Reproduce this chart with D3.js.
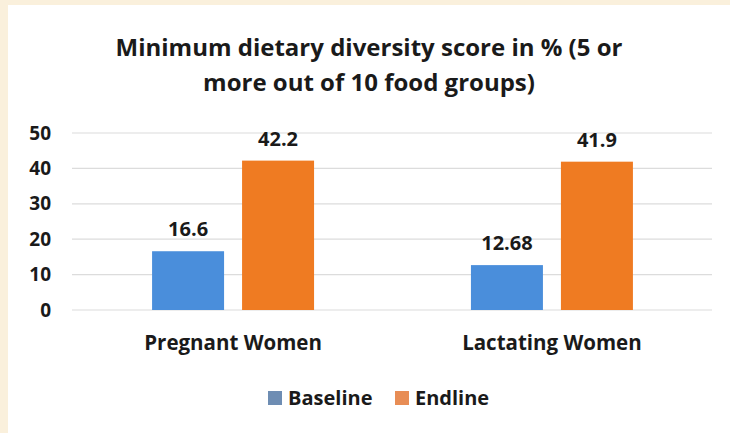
<!DOCTYPE html>
<html>
<head>
<meta charset="utf-8">
<script src="https://cdn.jsdelivr.net/npm/d3@7"></script>
<style>
  html, body { margin: 0; padding: 0; background: #faf0dc; }
  svg { display: block; }
  text { font-family: "Open Sans", sans-serif; font-weight: 700; fill: #1a1a1a; }
</style>
</head>
<body>
<svg id="chart" width="730" height="433"></svg>
<script>
// Chart data
const categories = ["Pregnant Women", "Lactating Women"];
const seriesNames = ["Baseline", "Endline"];
const baseline = [16.6, 12.68];
const endline = [42.2, 41.9];
const valueLabels = [["16.6", "42.2"], ["12.68", "41.9"]];
const yTicks = [0, 10, 20, 30, 40, 50];
const titleLines = ["Minimum dietary diversity score in % (5 or", "more out of 10 food groups)"];
const colors = ["#4a8edb", "#ef7b22"];

const svg = d3.select("#chart");

// White chart panel on the cream page
svg.append("rect").attr("x", 8).attr("y", 5).attr("width", 722).attr("height", 428).attr("fill", "#ffffff");

// Title
svg.append("g").selectAll("text").data(titleLines).join("text")
  .attr("x", 369).attr("y", (d, i) => 56 + i * 35)
  .attr("text-anchor", "middle")
  .attr("font-size", 24)
  .text(d => d);

const x0 = d3.scaleBand().domain(categories).range([73, 712]).paddingInner(0.492).paddingOuter(0.248);
const x1 = d3.scaleBand().domain(seriesNames).range([0, x0.bandwidth()]).paddingInner(0.2).paddingOuter(0);
const y = d3.scaleLinear().domain([0, 50]).range([310, 133]);

// Gridlines
svg.append("g").selectAll("line").data(yTicks).join("line")
  .attr("x1", 72).attr("x2", 712)
  .attr("y1", d => y(d)).attr("y2", d => y(d))
  .attr("stroke", "#dcdcdc").attr("stroke-width", 1.2);

// Value axis
const yAxis = svg.append("g").attr("transform", "translate(51,0)")
  .call(d3.axisLeft(y).tickValues(yTicks).tickSize(0).tickPadding(0).tickFormat(d3.format("d")));
yAxis.select(".domain").remove();
yAxis.selectAll("text").attr("font-size", 19).attr("font-family", "'Open Sans', sans-serif").attr("font-weight", 700).attr("fill", "#1a1a1a");

// Bars
const rows = categories.map((c, i) => ({ cat: c, values: [baseline[i], endline[i]], labels: valueLabels[i] }));
const groups = svg.append("g").selectAll("g").data(rows).join("g")
  .attr("transform", d => `translate(${x0(d.cat)},0)`);

groups.selectAll("rect").data(d => d.values.map((v, j) => ({ s: seriesNames[j], v, j }))).join("rect")
  .attr("x", d => x1(d.s)).attr("width", x1.bandwidth())
  .attr("y", d => y(d.v)).attr("height", d => y(0) - y(d.v))
  .attr("fill", d => colors[d.j]);

groups.selectAll("text.val").data(d => d.values.map((v, j) => ({ s: seriesNames[j], v, j, label: d.labels[j] }))).join("text")
  .attr("class", "val")
  .attr("x", d => x1(d.s) + x1.bandwidth() / 2)
  .attr("y", d => y(d.v) - 15)
  .attr("text-anchor", "middle").attr("font-size", 20)
  .text(d => d.label);

// Category axis labels
svg.append("g").selectAll("text").data(categories).join("text")
  .attr("x", d => x0(d) + x0.bandwidth() / 2).attr("y", 350)
  .attr("text-anchor", "middle").attr("font-size", 20.5)
  .text(d => d);

// Legend
const legend = svg.append("g").attr("transform", "translate(268,397)");
const items = legend.selectAll("g").data(seriesNames).join("g")
  .attr("transform", (d, i) => `translate(${i * 127},0)`);
items.append("rect").attr("x", 0).attr("y", -6).attr("width", 14).attr("height", 14)
  .attr("fill", (d, i) => i === 0 ? "#6e8db3" : "#e88d55");
items.append("text").attr("x", 20).attr("y", 8).attr("font-size", 20).text(d => d);
</script>
</body>
</html>
